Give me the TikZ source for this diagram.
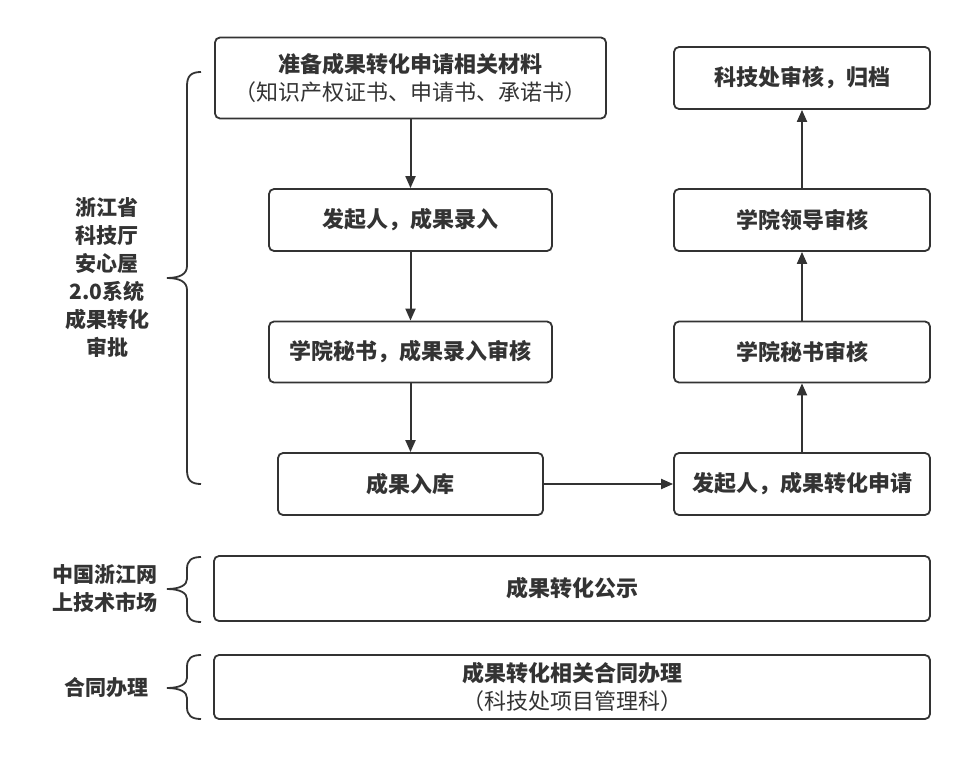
\documentclass[tikz,border=0pt]{standalone}
\usepackage{fontspec}
\setmainfont{Noto Sans CJK SC}
\usepackage{tikz}
\usetikzlibrary{arrows,arrows.meta,positioning}
\definecolor{ink}{HTML}{333333}
\tikzstyle{every picture}+=[font=\fontsize{21pt}{28pt}\selectfont]

\begin{document}
\begin{tikzpicture}
		[x=1pt, y=-1pt, inner sep=0pt, color=ink,
		step box/.style	= {rectangle,draw=ink,line width=1.8pt,rounded corners=5pt,align=center,font=\fontsize{22pt}{28pt}\selectfont\bfseries},
		wide box/.style	= {step box,minimum width=716pt},
		left box/.style	= {step box,minimum width=283pt},
		right box/.style	= {step box,minimum width=256pt},
		group/.style	= {align=center,font=\fontsize{21pt}{28pt}\selectfont\bfseries},
		paths/.style	= {-{Triangle[length=12pt,width=10pt]}, draw=ink, line width=2pt},
		brace/.style	= {draw=ink, line width=1.8pt}]
		
		\useasboundingbox (0,0) rectangle (967,757);
		
		\node at (410.5, 78)	[step box, minimum width=391pt, minimum height=81pt]	(prep)	{准备成果转化申请相关材料\\[0pt]{\mdseries （知识产权证书、申请书、承诺书）}};
		\node at (410.5, 220)	[left box, minimum height=62pt]	(entry)	{发起人，成果录入};
		\node at (410.5, 352)	[left box, minimum height=61pt]	(check)	{学院秘书，成果录入审核};
		\node at (410.5, 484)	[step box, minimum width=265pt, minimum height=62pt]	(store)	{成果入库};
		
		\node at (802, 484)		[right box, minimum height=62pt]	(apply)		{发起人，成果转化申请};
		\node at (802, 352)		[right box, minimum height=61pt]	(secr)		{学院秘书审核};
		\node at (802, 220)		[right box, minimum height=62pt]	(lead)		{学院领导审核};
		\node at (802, 78)		[right box, minimum height=62pt]	(archive)	{科技处审核，归档};
		
		\node at (572, 588.5)	[wide box, minimum height=65pt]	(public)	{成果转化公示};
		\node at (572, 687)		[wide box, minimum height=64pt]	(contract)	{成果转化相关合同办理\\[0pt]{\mdseries （科技处项目管理科）}};
		
		\node at (107, 277.5)	[group]	(system)	{浙江省\\科技厅\\安心屋\\2.0系统\\成果转化\\审批};
		\node at (105, 588.5)	[group]	(market)	{中国浙江网\\上技术市场};
		\node at (106, 688)		[group]	(deal)		{合同办理};
		
		\draw [paths] (prep.south) -- (entry.north);
		\draw [paths] (entry.south) -- (check.north);
		\draw [paths] (check.south) -- (store.north);
		\draw [paths] (store.east) -- (apply.west);
		\draw [paths] (apply.north) -- (secr.south);
		\draw [paths] (secr.north) -- (lead.south);
		\draw [paths] (lead.north) -- (archive.south);
		
		% braces
		\draw [brace] (201,72) .. controls (191,72) and (187,76) .. (187,86) -- (187,266) .. controls (187,274) and (180,278) .. (167,278) .. controls (180,278) and (187,282) .. (187,290) -- (187,470) .. controls (187,480) and (191,484) .. (201,484);
		\draw [brace] (201,557) .. controls (191,557) and (187,561) .. (187,569) -- (187,579) .. controls (187,585) and (180,589) .. (167,589) .. controls (180,589) and (187,593) .. (187,599) -- (187,610) .. controls (187,618) and (191,622) .. (201,622);
		\draw [brace] (201,655) .. controls (191,655) and (187,659) .. (187,667) -- (187,678) .. controls (187,684) and (180,688) .. (167,688) .. controls (180,688) and (187,692) .. (187,698) -- (187,707) .. controls (187,715) and (191,719) .. (201,719);
		
		\end{tikzpicture}
\end{document}
